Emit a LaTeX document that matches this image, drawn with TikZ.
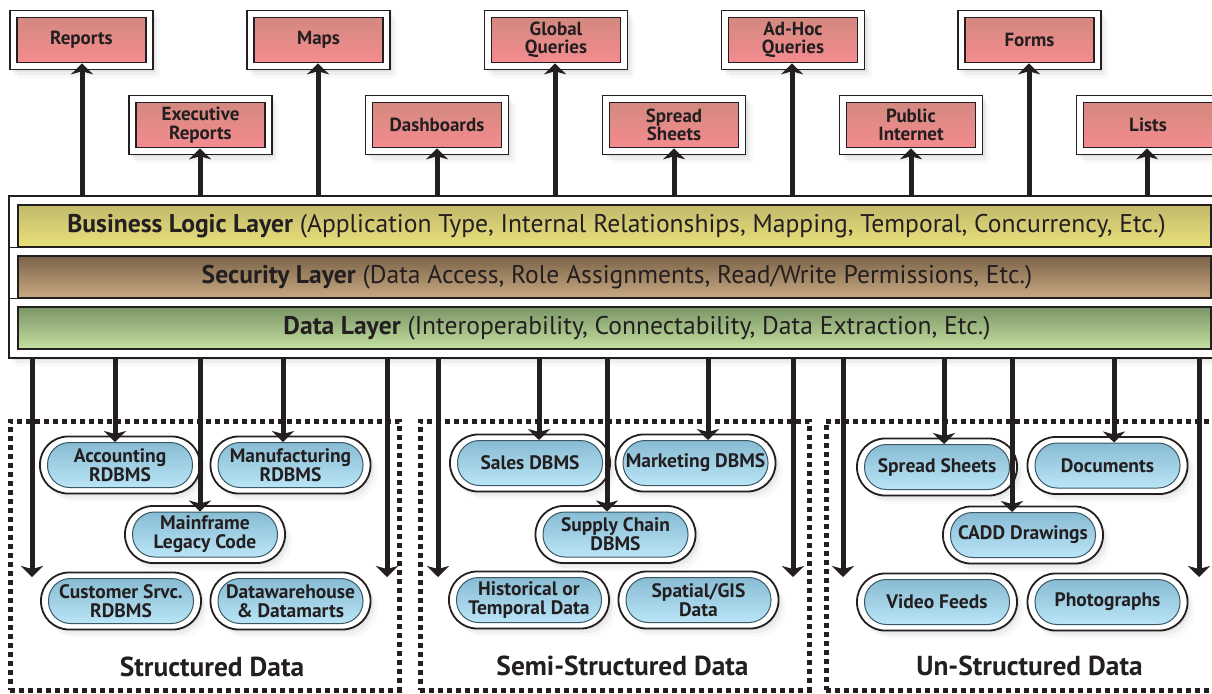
\documentclass[tikz,border=0pt]{standalone}
\usepackage{fontspec}
\setmainfont{PT Sans}
\usetikzlibrary{arrows.meta,shadows}
\definecolor{ink}{HTML}{231F20}
\definecolor{pinkT}{HTML}{D3897F}
\definecolor{pinkB}{HTML}{F58B8F}
\definecolor{bluT}{HTML}{88BCD3}
\definecolor{bluB}{HTML}{BAE5F7}
\definecolor{bluD}{HTML}{3A5866}
\definecolor{yelT}{HTML}{C2B96C}
\definecolor{yelM}{HTML}{F6EE7C}
\definecolor{yelB}{HTML}{E9E17A}
\definecolor{brnT}{HTML}{7C644A}
\definecolor{brnB}{HTML}{C8A981}
\definecolor{grnT}{HTML}{7B9667}
\definecolor{grnB}{HTML}{C4E0A0}
\tikzset{
  shade/.style={drop shadow={shadow xshift=2pt,shadow yshift=-2pt,opacity=0.10},
                drop shadow={shadow xshift=4pt,shadow yshift=-5pt,opacity=0.08},
                drop shadow={shadow xshift=7pt,shadow yshift=-8pt,opacity=0.05}},
  outbox/.style={draw=ink,line width=1.6pt,fill=white,minimum width=143pt,minimum height=59pt,shade},
  pinkbox/.style={draw=ink,line width=1.6pt,top color=pinkT,bottom color=pinkB,minimum width=129pt,minimum height=45pt,
    font=\bfseries\fontsize{19}{18.5}\selectfont,text=ink,align=center,inner sep=0pt},
  ovalout/.style={draw=ink,line width=1.8pt,fill=white,rounded corners=28pt,minimum width=160pt,minimum height=57pt,shade},
  ovalin/.style={draw=bluD,line width=1pt,top color=bluT,bottom color=bluB,rounded corners=22pt,minimum width=145pt,minimum height=45pt,
    font=\bfseries\fontsize{19.5}{19}\selectfont,text=ink,align=center,inner sep=0pt},
  band/.style={draw=ink,line width=1.6pt,minimum width=1193pt,minimum height=42pt,inner sep=0pt},
  bandtext/.style={font=\fontsize{25.6}{28}\selectfont,text=ink,inner sep=0pt},
  uparr/.style={draw=ink,line width=5pt,-{Stealth[length=11pt,width=22pt,inset=3pt]}},
  dnarr/.style={draw=ink,line width=5pt,-{Stealth[length=11pt,width=22pt,inset=3pt]}},
  dotbox/.style={draw=ink,line width=5pt,dash pattern=on 5pt off 4pt,minimum height=269pt,inner sep=0pt},
  grplabel/.style={font=\bfseries\fontsize{27.4}{30}\selectfont,text=ink,anchor=base}
}
\begin{document}
\begin{tikzpicture}[x=1pt,y=-1pt]
\useasboundingbox (0,0) rectangle (1212,693);
% ---------- top output boxes ----------
\node[outbox] (repO) at (81.5,40) {};   \node[pinkbox] (rep) at (81.5,40) {Reports};
\node[outbox] (mapO) at (318.5,40) {};  \node[pinkbox] (map) at (318.5,40) {Maps};
\node[outbox] (gqO) at (556,40) {};     \node[pinkbox] (gq) at (556,40) {Global\\Queries};
\node[outbox] (ahO) at (793,40) {};     \node[pinkbox] (ah) at (793,40) {Ad-Hoc\\Queries};
\node[outbox] (frmO) at (1029.5,40) {}; \node[pinkbox] (frm) at (1029.5,40) {Forms};
\node[outbox] (exO) at (200.5,125) {};  \node[pinkbox] (ex) at (200.5,125) {Executive\\Reports};
\node[outbox] (dbO) at (437,125) {};    \node[pinkbox] (db) at (437,125) {Dashboards};
\node[outbox] (spO) at (674,125) {};    \node[pinkbox] (sp) at (674,125) {Spread\\Sheets};
\node[outbox] (piO) at (911,125) {};    \node[pinkbox] (pi) at (911,125) {Public\\Internet};
\node[outbox] (lsO) at (1148,125) {};   \node[pinkbox] (ls) at (1148,125) {Lists};
% ---------- layer stack ----------
\node[draw=ink,line width=1.6pt,fill=white,minimum width=1209pt,minimum height=162pt,inner sep=0pt,shade] (L) at (613.5,277) {};
\draw[ink,line width=1.6pt] (L.west |- 0,247.5) -- (L.east |- 0,247.5);
\draw[ink,line width=1.6pt] (L.west |- 0,298.5) -- (L.east |- 0,298.5);
\node[band,top color=yelT,middle color=yelM,bottom color=yelB] (bl) at (614.5,226) {};
\node[bandtext] (blt) at (616.5,226) {\textbf{Business Logic Layer} (Application Type, Internal Relationships, Mapping, Temporal, Concurrency, Etc.)};
\node[band,top color=brnT,bottom color=brnB] (sl) at (614.5,277) {};
\node[bandtext] (slt) at (617,277) {\textbf{Security Layer} (Data Access, Role Assignments, Read/Write Permissions, Etc.)};
\node[band,top color=grnT,bottom color=grnB] (dl) at (614.5,328) {};
\node[bandtext] (dlt) at (637,328) {\textbf{Data Layer} (Interoperability, Connectability, Data Extraction, Etc.)};
% ---------- up arrows ----------
\foreach \n/\x in {rep/82,ex/200,map/318,db/437,gq/555,sp/674,ah/792,pi/911,frm/1029,ls/1147}
  \draw[uparr] (L.north -| \x,0) -- (\n.south -| \x,0);
% ---------- dotted groups ----------
\node[dotbox,minimum width=389pt] (gS) at (204.5,555.5) {};
\node[dotbox,minimum width=389pt] (gM) at (614.5,555.5) {};
\node[dotbox,minimum width=399pt] (gU) at (1025.5,555.5) {};
\node[grplabel] (gSl) at (212,676) {Structured Data};
\node[grplabel] (gMl) at (622.5,675) {Semi-Structured Data};
\node[grplabel] (gUl) at (1029.5,675) {Un-Structured Data};
% ---------- data sources ----------
\foreach \n/\x/\y/\t in {
  acc/120/465/{Accounting\\RDBMS}, man/290.5/465/{Manufacturing\\RDBMS}, mfr/205/534.5/{Mainframe\\Legacy Code},
  cus/121/601/{Customer Srvc.\\RDBMS}, dwh/290.5/601/{Datawarehouse\\\& Datamarts},
  sal/530/463/{Sales DBMS}, mkt/695.5/463/{Marketing DBMS}, sup/615.5/534.5/{Supply Chain\\DBMS},
  his/529/600/{Historical or\\Temporal Data}, spa/698.5/600/{Spatial/GIS\\Data},
  ss/937/467/{Spread Sheets}, doc/1107.5/465.5/{Documents}, cad/1023/535/{CADD Drawings},
  vid/937/602/{Video Feeds}, pho/1107.5/602/{Photographs}}
{ \node[ovalout] (\n O) at (\x,\y) {}; \node[ovalin] (\n) at (\x,\y) {\t}; }
% ---------- free arrow ends ----------
\coordinate (e1) at (32,577);  \coordinate (e2) at (387,577);
\coordinate (e3) at (438,577); \coordinate (e4) at (793,577);
\coordinate (e5) at (843,577); \coordinate (e6) at (1199,577);
% ---------- down arrows ----------
\foreach \e in {e1,e2,e3,e4,e5,e6}
  \draw[dnarr] (L.south -| \e) -- (\e);
\foreach \n/\x in {acc/115,mfr/200,man/283,sal/539,sup/607,mkt/708,ss/944,cad/1012,doc/1114}
  \draw[dnarr] (L.south -| \x,0) -- (\n.north -| \x,0);
\end{tikzpicture}
\end{document}
